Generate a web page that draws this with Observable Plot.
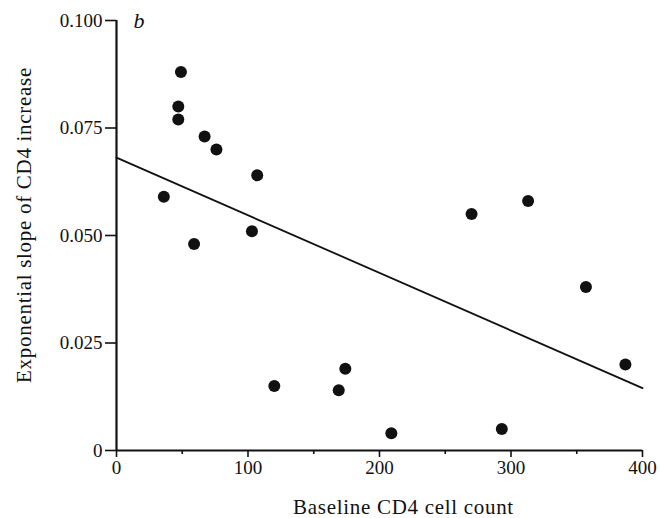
<!DOCTYPE html>
<html>
<head>
<meta charset="utf-8">
<script src="https://cdn.jsdelivr.net/npm/d3@7"></script>
<script src="https://cdn.jsdelivr.net/npm/@observablehq/plot@0.6"></script>
<style>
  html, body { margin: 0; padding: 0; background: #fff; }
  #chart svg, #chart svg text { font-family: 'Liberation Serif', 'DejaVu Serif', serif !important; }
</style>
</head>
<body>
<div id="chart"></div>
<script>
// Data
const baselineCD4 = [36, 47, 47, 49, 59, 67, 76, 103, 107, 120, 169, 174, 209, 270, 293, 313, 357, 387];
const slope       = [0.059, 0.080, 0.077, 0.088, 0.048, 0.073, 0.070, 0.051, 0.064, 0.015, 0.014, 0.019, 0.004, 0.055, 0.005, 0.058, 0.038, 0.020];
const fitX = [0, 400];
const fitY = [0.0681, 0.0145];
const xMajorTicks = [0, 100, 200, 300, 400];
const xMinorTicks = [50, 150, 250, 350];
const yTicks = [0, 0.025, 0.05, 0.075, 0.1];
const xLabel = "Baseline CD4 cell count";
const yLabel = "Exponential slope of CD4 increase";
const panelLabel = "b";

const points = baselineCD4.map((x, i) => ({x, y: slope[i]}));
const fit = fitX.map((x, i) => ({x, y: fitY[i]}));
const serif = "'Liberation Serif', 'DejaVu Serif', serif";
const yFmt = d => d === 0 ? "0" : d.toFixed(3);

const chart = Plot.plot({
  width: 660,
  height: 518,
  marginLeft: 116,
  marginRight: 18,
  marginTop: 20,
  marginBottom: 68,
  style: {fontFamily: serif, fontSize: "19px", color: "#111", background: "#fff"},
  x: {domain: [0, 400]},
  y: {domain: [0, 0.1]},
  marks: [
    Plot.axisX({ticks: xMajorTicks, tickSize: 7, strokeWidth: 1.6, label: null, text: null}),
    Plot.axisX({ticks: xMinorTicks, tickSize: 4, strokeWidth: 1.6, label: null, text: null}),
    Plot.axisY({ticks: yTicks, tickSize: 11, strokeWidth: 1.6, label: null, text: null}),
    Plot.text(xMajorTicks, {x: d => d, text: d => String(d), frameAnchor: "bottom", dy: 10, lineAnchor: "top", textAnchor: "middle", fontFamily: serif, fontSize: 19, fill: "#111"}),
    Plot.text(yTicks, {y: d => d, text: yFmt, frameAnchor: "left", dx: -14, lineAnchor: "middle", textAnchor: "end", fontFamily: serif, fontSize: 19, fill: "#111"}),
    Plot.ruleY([0], {stroke: "#111", strokeWidth: 2.2}),
    Plot.ruleX([0], {stroke: "#111", strokeWidth: 2.2}),
    Plot.line(fit, {x: "x", y: "y", stroke: "#111", strokeWidth: 1.8}),
    Plot.dot(points, {x: "x", y: "y", r: 6, fill: "#111", stroke: "none"}),
    Plot.text([xLabel], {frameAnchor: "bottom", dx: 24, dy: 57, lineAnchor: "middle", textAnchor: "middle", fontFamily: serif, fontSize: 21, fill: "#111"}),
    Plot.text([yLabel], {frameAnchor: "left", rotate: -90, dx: -92, dy: -10.5, lineAnchor: "middle", textAnchor: "middle", fontFamily: serif, fontSize: 21, fill: "#111"}),
    Plot.text([panelLabel], {frameAnchor: "top-left", dx: 17, dy: 0, textAnchor: "start", lineAnchor: "middle", fontStyle: "italic", fontFamily: serif, fontSize: 22, fill: "#111"})
  ]
});
d3.select(chart).selectAll("text")
  .filter(function() { return this.textContent === xLabel || this.textContent === yLabel; })
  .style("letter-spacing", "0.7px");
document.getElementById("chart").appendChild(chart);
</script>
</body>
</html>
